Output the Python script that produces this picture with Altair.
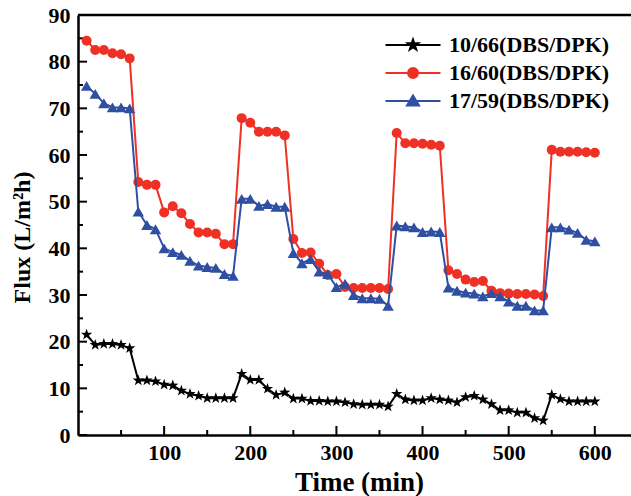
import altair as alt
import pandas as pd

# ---------------- data ----------------
time_min = [10, 20, 30, 40, 50, 60, 70, 80, 90, 100, 110, 120, 130, 140, 150, 160, 170, 180,
            190, 200, 210, 220, 230, 240, 250, 260, 270, 280, 290, 300, 310, 320, 330, 340,
            350, 360, 370, 380, 390, 400, 410, 420, 430, 440, 450, 460, 470, 480, 490, 500,
            510, 520, 530, 540, 550, 560, 570, 580, 590, 600]

series_names = ["10/66(DBS/DPK)", "16/60(DBS/DPK)", "17/59(DBS/DPK)"]

flux_10_66 = [21.5, 19.3, 19.5, 19.5, 19.3, 18.6,
              11.7, 11.7, 11.5, 10.8, 10.6, 9.5, 8.8, 8.4, 7.9, 7.9, 7.9, 7.9,
              13.1, 11.8, 11.8, 9.9, 8.6, 9.1,
              7.8, 7.8, 7.3, 7.3, 7.2, 7.2, 7.0, 6.6, 6.5, 6.5, 6.5, 6.1,
              8.8, 7.6, 7.4, 7.4, 7.9, 7.6,
              7.4, 7.0, 8.1, 8.4, 7.6, 6.6, 5.3, 5.3, 4.8, 4.8, 3.6, 3.1,
              8.6, 7.7, 7.2, 7.2, 7.2, 7.2]

flux_16_60 = [84.5, 82.5, 82.5, 81.8, 81.6, 80.7,
              54.2, 53.6, 53.6, 47.7, 49.0, 47.5, 45.2, 43.4, 43.4, 43.1, 40.9, 40.9,
              67.9, 66.9, 65.0, 65.0, 65.0, 64.2,
              42.0, 39.0, 39.1, 36.7, 34.3, 34.5, 31.7, 31.5, 31.5, 31.5, 31.5, 31.3,
              64.7, 62.5, 62.5, 62.4, 62.2, 62.0,
              35.3, 34.5, 33.3, 32.8, 33.0, 30.9, 30.4, 30.3, 30.2, 30.2, 30.1, 29.8,
              61.1, 60.7, 60.7, 60.7, 60.6, 60.5]

flux_17_59 = [74.8, 73.1, 71.1, 70.2, 70.2, 70.0,
              47.9, 45.0, 44.1, 40.0, 39.2, 38.6, 37.3, 36.3, 36.0, 35.8, 34.5, 34.1,
              50.6, 50.6, 49.1, 49.5, 48.9, 48.9,
              39.0, 36.8, 37.7, 35.0, 34.5, 31.7, 32.4, 30.0, 29.3, 29.3, 29.2, 27.7,
              44.9, 44.7, 44.5, 43.5, 43.6, 43.5,
              31.6, 30.9, 30.5, 30.3, 29.7, 30.4, 29.7, 28.6, 27.7, 27.7, 26.7, 26.7,
              44.5, 44.5, 44.0, 43.3, 41.8, 41.5]

x_label_values = [100, 200, 300, 400, 500, 600]
x_minor_ticks = [50, 150, 250, 350, 450, 550]
y_label_values = [0, 10, 20, 30, 40, 50, 60, 70, 80, 90]
y_minor_ticks = [5, 15, 25, 35, 45, 55, 65, 75, 85]

# ---------------- style ----------------
W, H = 553, 420
X_MAX = 642
FONT = "Liberation Serif"
colors = ["#000000", "#EE3124", "#2F4FA2"]

star_pts = [(0, -1), (0.235, -0.324), (0.951, -0.309), (0.38, 0.124), (0.588, 0.809),
            (0, 0.4), (-0.588, 0.809), (-0.38, 0.124), (-0.951, -0.309), (-0.235, -0.324)]


def star_path(k):
    return "M" + "L".join(f"{x * k:.3f},{y * k:.3f}" for x, y in star_pts) + "Z"


marker_shapes = [star_path(1.0), "circle", "triangle-up"]
marker_sizes = [140, 100, 130]

line_seg = "M-2.75,0H2.75"
legend_paths = [
    line_seg + star_path(0.55),
    line_seg + "M-0.5,0A0.5,0.5,0,1,0,0.5,0A0.5,0.5,0,1,0,-0.5,0Z",
    line_seg + "M0,-0.55L0.6,0.45L-0.6,0.45Z",
]

xs = alt.Scale(domain=[0, X_MAX], nice=False, zero=False)
ys = alt.Scale(domain=[0, 90], nice=False, zero=False)

x_axis = alt.Axis(values=x_label_values, ticks=False, grid=False, domain=True,
                  domainColor="black", domainWidth=2.5,
                  labelFont=FONT, labelFontSize=22, labelFontWeight="bold",
                  labelColor="black", labelPadding=7, labelFlush=False,
                  title="Time (min)", titleFont=FONT, titleFontSize=27,
                  titleFontWeight="bold", titleColor="black",
                  titleX=281, titleY=47, titleBaseline="middle", titleAlign="center")
y_axis = alt.Axis(values=y_label_values, ticks=False, grid=False, domain=True,
                  domainColor="black", domainWidth=2.5,
                  labelFont=FONT, labelFontSize=22, labelFontWeight="bold",
                  labelColor="black", labelPadding=8, labelFlush=False,
                  title="Flux (L/m²h)", titleFont=FONT, titleFontSize=24,
                  titleFontWeight="bold", titleColor="black", titleAngle=270,
                  titleX=-56, titleY=222, titleBaseline="middle", titleAlign="center")


def X(field):
    return alt.X(field, scale=xs, axis=x_axis)


def Y(field):
    return alt.Y(field, scale=ys, axis=y_axis)


# ---------------- layers ----------------
layers = []

# inward ticks
layers.append(alt.Chart(pd.DataFrame({"v": y_label_values})).mark_rule(color="black", strokeWidth=2).encode(
    y=Y("v:Q"), x=alt.value(0), x2=alt.value(9)))
layers.append(alt.Chart(pd.DataFrame({"v": y_minor_ticks})).mark_rule(color="black", strokeWidth=2).encode(
    y=Y("v:Q"), x=alt.value(0), x2=alt.value(5)))
layers.append(alt.Chart(pd.DataFrame({"v": x_label_values})).mark_rule(color="black", strokeWidth=2).encode(
    x=X("v:Q"), y=alt.value(H), y2=alt.value(H - 9)))
layers.append(alt.Chart(pd.DataFrame({"v": x_minor_ticks})).mark_rule(color="black", strokeWidth=2).encode(
    x=X("v:Q"), y=alt.value(H), y2=alt.value(H - 5)))
# top frame line
layers.append(alt.Chart(pd.DataFrame({"a": [0]})).mark_rule(color="black", strokeWidth=2.5).encode(
    x=alt.value(0), x2=alt.value(W), y=alt.value(0)))

for i, (name, vals) in enumerate(zip(series_names, [flux_10_66, flux_16_60, flux_17_59])):
    d = pd.DataFrame({"time": time_min, "flux": vals})
    base = alt.Chart(d)
    layers.append(base.mark_line(color=colors[i], strokeWidth=2).encode(
        x=X("time:Q"), y=Y("flux:Q")))
    layers.append(base.mark_point(shape=marker_shapes[i], filled=True, size=marker_sizes[i],
                                  color=colors[i], opacity=1, strokeWidth=0).encode(
        x=X("time:Q"), y=Y("flux:Q")))

leg = alt.Legend(title=None, orient="none", legendX=306, legendY=19, symbolSize=400,
                 symbolStrokeWidth=2, symbolOffset=18, labelOffset=25, labelLimit=400,
                 labelFont=FONT, labelFontSize=22, labelFontWeight="bold",
                 labelColor="black", rowPadding=6, padding=0)

layers.append(alt.Chart(pd.DataFrame({"series": series_names})).mark_point(
    filled=True, clip=True, strokeWidth=2, opacity=1).encode(
    x=alt.value(-500), y=alt.value(-500),
    color=alt.Color("series:N", scale=alt.Scale(domain=series_names, range=colors), legend=leg),
    stroke=alt.Stroke("series:N", scale=alt.Scale(domain=series_names, range=colors), legend=leg),
    shape=alt.Shape("series:N", scale=alt.Scale(domain=series_names, range=legend_paths), legend=leg),
))

chart = alt.layer(*layers).properties(
    width=W, height=H,
    padding={"left": 78, "top": 15, "right": 0, "bottom": 61},
    autosize=alt.AutoSizeParams(type="none"),
    background="white",
).configure_view(stroke=None)

chart.save("out.html", embed_options={"renderer": "svg", "actions": False})
